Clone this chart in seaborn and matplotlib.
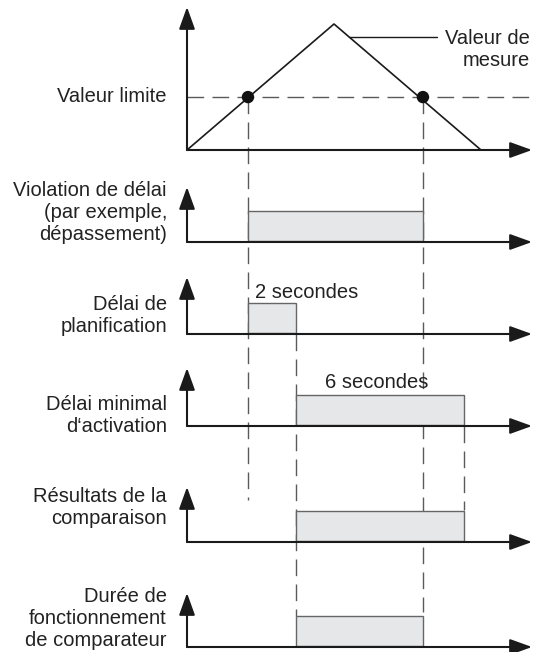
import matplotlib
matplotlib.use("Agg")
import matplotlib.pyplot as plt
import seaborn as sns
import pandas as pd

# ---------------- data ----------------
meas_t = [0.0, 6.125, 12.25]          # time of measurement curve points (s)
meas_v = [0.0, 1.0, 0.0]              # relative measurement value
limit_v = 0.42                        # limit value (relative)
cross_t = [2.54, 9.83]                # crossings of the limit value
top_labels = ["Valeur limite", "Valeur de\nmesure"]

panel_labels = [
    "Violation de délai\n(par exemple,\ndépassement)",
    "Délai de\nplanification",
    "Délai minimal\nd‘activation",
    "Résultats de la\ncomparaison",
    "Durée de\nfonctionnement\nde comparateur",
]
bar_start = [2.54, 2.54, 4.54, 4.54, 4.54]
bar_end = [9.83, 4.54, 11.54, 11.54, 9.83]
bar_notes = ["", "2 secondes", "6 secondes", "", ""]

# ---------------- layout (pixel rows) ----------------
W, H = 535, 652
X0 = 187            # pixel of t = 0
PX_S = 24.0         # pixels per time unit
T_END = (532 - X0) / PX_S
base_y = [150, 242, 334, 426, 542, 647]
top_y = [7, 187, 277, 368, 487, 593]
label_y = [97, 213, 316, 415, 508, 618]
TOP_SCALE = 126.0
BAR_H = 30
FS = 14.5

sns.set_theme(style="white")
plt.rcParams["font.family"] = ["Liberation Sans", "DejaVu Sans"]
plt.rcParams["lines.scale_dashes"] = False

fig = plt.figure(figsize=(W / 100, H / 100), dpi=100)
ax = fig.add_axes([0, 0, 1, 1])
ax.set_xlim(-X0 / PX_S, (W - X0) / PX_S)
ax.set_ylim(H, 0)
ax.axis("off")

AX_COL = "#1a1a1a"
TXT_COL = "#222222"
DASH_COL = "#5a5a5a"
dash = (0, (12.0, 6.0))

def px(xp):
    return (xp - X0) / PX_S

def arrow(x0, y0, x1, y1):
    ax.annotate("", xy=(x1, y1), xytext=(x0, y0),
                arrowprops=dict(arrowstyle="-|>,head_length=0.75,head_width=0.27",
                                mutation_scale=18, lw=1.5, color=AX_COL,
                                shrinkA=0, shrinkB=0), zorder=6)

# axes for every panel
for b, t in zip(base_y, top_y):
    arrow(0, b, 0, t)
    arrow(0, b, T_END, b)

# measurement curve
top_df = pd.DataFrame({"t": meas_t, "y": [base_y[0] - v * TOP_SCALE for v in meas_v]})
sns.lineplot(data=top_df, x="t", y="y", ax=ax, color=AX_COL, lw=1.2, sort=False,
             estimator=None, zorder=5)

# limit line
lim_y = base_y[0] - limit_v * TOP_SCALE
ax.plot([0, px(W)], [lim_y, lim_y], color=DASH_COL, lw=1.0, linestyle=dash, zorder=3)

# crossing dots
dots = pd.DataFrame({"t": cross_t, "y": [lim_y] * len(cross_t)})
sns.scatterplot(data=dots, x="t", y="y", ax=ax, color="#111111", s=80,
                edgecolor="none", zorder=7)

# leader line and label for measurement value
peak_t, peak_y = meas_t[1], base_y[0] - meas_v[1] * TOP_SCALE
lead_y = 37
lead_t = peak_t + (meas_t[2] - meas_t[1]) * (lead_y - peak_y) / TOP_SCALE
ax.plot([lead_t, px(437)], [lead_y, lead_y], color=AX_COL, lw=1.0, zorder=4)
ax.text(px(530), 49, top_labels[1], ha="right", va="center", fontsize=FS,
        color=TXT_COL, multialignment="right", linespacing=1.2)
ax.text(px(167), label_y[0], top_labels[0], ha="right", va="center",
        fontsize=FS, color=TXT_COL)

# vertical dashed guide lines
guides = [
    (cross_t[0], lim_y, 500),
    (cross_t[1], lim_y, 612),
    (bar_end[1], base_y[2], 616),
    (bar_end[2], base_y[3], 510),
]
for t, y0, y1 in guides:
    ax.plot([t, t], [y0, y1], color=DASH_COL, lw=1.0, linestyle=dash, zorder=2)

# bars and labels for each panel
for i, (lab, s, e, note) in enumerate(zip(panel_labels, bar_start, bar_end, bar_notes)):
    b = base_y[i + 1]
    ax.bar(s, BAR_H, width=e - s, bottom=b - 1 - BAR_H, align="edge",
           color="#e6e7e8", edgecolor="#666666", linewidth=1.0, zorder=4)
    ax.text(px(167), label_y[i + 1], lab, ha="right", va="center", fontsize=FS,
            color=TXT_COL, multialignment="right", linespacing=1.2)
    if note:
        if i == 1:
            ax.text(s + 0.3, b - 1 - BAR_H - 10, note, ha="left", va="center",
                    fontsize=FS, color=TXT_COL)
        else:
            ax.text((s + e) / 2 - 0.15, b - 1 - BAR_H - 12, note, ha="center",
                    va="center", fontsize=FS, color=TXT_COL)

fig.savefig("out.png", dpi=100, facecolor="white")
